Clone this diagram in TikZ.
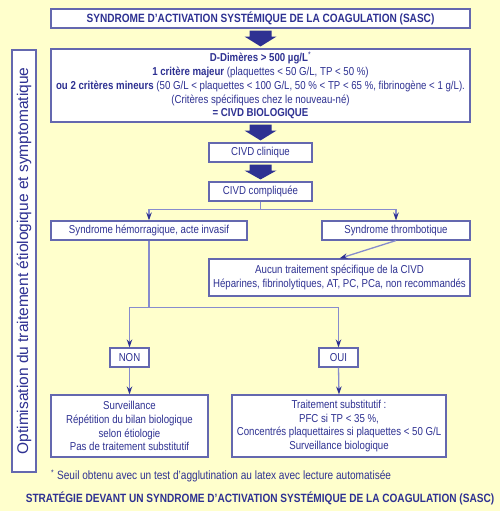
\documentclass[tikz,border=0pt]{standalone}
\usepackage{fontspec}
\setmainfont{Liberation Sans}[FakeStretch=0.84]
\newfontfamily\largefont{Liberation Sans}
\usetikzlibrary{arrows.meta,calc}
\definecolor{fondjaune}{RGB}{255,255,204}
\definecolor{bleutexte}{RGB}{46,49,146}
\definecolor{bleutrait}{RGB}{135,140,205}
\definecolor{bleucadre}{RGB}{100,104,175}
% grosse fleche pleine entre deux cadres
\newcommand\grossefleche[2]{%
	\fill[bleutexte] let \p1=(#1.south), \p2=(#2.north) in
	(\x1-11pt,\y1-2pt)--(\x1+11pt,\y1-2pt)--(\x1+11pt,\y1-8pt)--(\x1+16pt,\y1-8pt)
	--(\x1,\y2+2pt)--(\x1-16pt,\y1-8pt)--(\x1-11pt,\y1-8pt)--cycle;}
\begin{document}
\begin{tikzpicture}[x=1pt,y=-1pt,
	cadre/.style={draw=bleucadre,line width=1.1pt,fill=white,text=bleutexte,inner sep=0pt,align=center,font=\fontsize{11.5}{13.8}\selectfont},
	lien/.style={draw=bleutrait,line width=1.3pt,-{Stealth[length=8pt,width=5.5pt,color=bleutexte]}},
	titre/.style={text=bleutexte,font=\bfseries\fontsize{12}{14}\selectfont}]
	\useasboundingbox[fill=fondjaune] (0,0) rectangle (500,511);
	% cadres
	\node[cadre,titre,minimum width=419pt,minimum height=19pt] (sasc) at (260.5,18.5) {SYNDROME D’ACTIVATION SYSTÉMIQUE DE LA COAGULATION (SASC)};
	\node[cadre,minimum width=419pt,minimum height=73pt] (bio) at (260.5,85.5) {\textbf{D-Dimères > 500 µg/L}\textsuperscript{*}\\
		\textbf{1 critère majeur} (plaquettes < 50 G/L, TP < 50 \%)\\
		\textbf{ou 2 critères mineurs} (50 G/L < plaquettes < 100 G/L, 50 \% < TP < 65 \%, fibrinogène < 1 g/L).\\
		(Critères spécifiques chez le nouveau-né)\\
		\textbf{= CIVD BIOLOGIQUE}};
	\node[cadre,rotate=90,minimum width=422pt,minimum height=24pt,font=\largefont\fontsize{15.5}{17}\selectfont] (optim) at (24,261) {Optimisation du traitement étiologique et symptomatique};
	\node[cadre,minimum width=103pt,minimum height=19pt] (clin) at (260.5,152.5) {CIVD clinique};
	\node[cadre,minimum width=103pt,minimum height=19pt] (compl) at (260.5,191.5) {CIVD compliquée};
	\node[cadre,minimum width=196pt,minimum height=19pt] (hemo) at (149,230.5) {Syndrome hémorragique, acte invasif};
	\node[cadre,minimum width=148pt,minimum height=19pt] (thrombo) at (396,230.5) {Syndrome thrombotique};
	\node[cadre,minimum width=261pt,minimum height=37pt] (aucun) at (339.5,277.5) {Aucun traitement spécifique de la CIVD\\
		Héparines, fibrinolytiques, AT, PC, PCa, non recommandés};
	\node[cadre,minimum width=39pt,minimum height=19pt] (non) at (129.5,357.5) {NON};
	\node[cadre,minimum width=39pt,minimum height=19pt] (oui) at (338.5,357.5) {OUI};
	\node[cadre,minimum width=157pt,minimum height=62pt] (surv) at (129.5,426) {Surveillance\\
		Répétition du bilan biologique\\
		selon étiologie\\
		Pas de traitement substitutif};
	\node[cadre,minimum width=214pt,minimum height=62pt] (subst) at (339,426) {Traitement substitutif :\\
		PFC si TP < 35 \%,\\
		Concentrés plaquettaires si plaquettes < 50 G/L\\
		Surveillance biologique};
	\node[anchor=west,text=bleutexte,font=\fontsize{12}{13}\selectfont,inner sep=0pt] (note) at (51,476) {\textsuperscript{*} Seuil obtenu avec un test d’agglutination au latex avec lecture automatisée};
	\node[titre] (strat) at (260,498) {STRATÉGIE DEVANT UN SYNDROME D'ACTIVATION SYSTÉMIQUE DE LA COAGULATION (SASC)};
	% fleches pleines
	\grossefleche{sasc}{bio}
	\grossefleche{bio}{clin}
	\grossefleche{clin}{compl}
	% liens
	\draw[lien] (compl.south)--++(0,8)-|(hemo.north);
	\draw[lien] (compl.south)--++(0,8)-|(thrombo.north);
	\draw[lien] (thrombo.south)--(aucun.north);
	\coordinate (fourche) at ($(hemo.south)+(0,67)$);
	\draw[lien] (hemo.south)--(fourche)-|(non.north);
	\draw[lien] (fourche)-|(oui.north);
	\draw[lien] (non.south)--(surv.north);
	\draw[lien] (oui.south)--(subst.north);
\end{tikzpicture}
\end{document}
